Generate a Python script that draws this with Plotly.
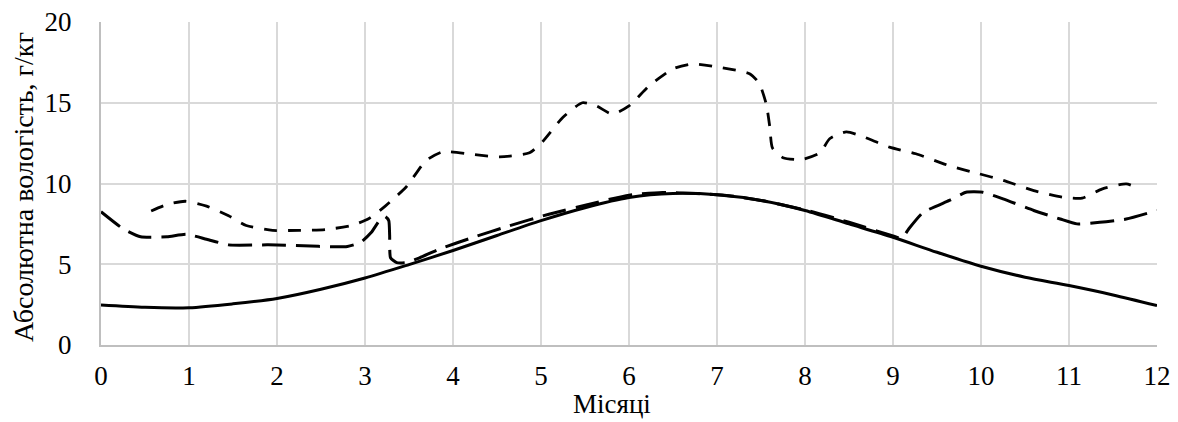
import plotly.graph_objects as go

# Solid curve
x_solid = [0, 0.5, 1, 1.5, 2, 2.5, 3, 3.5, 4, 4.5, 5, 5.5, 6, 6.5, 7, 7.5, 8, 8.5, 9, 9.5, 10, 10.5, 11, 11.5, 12]
y_solid = [2.47, 2.33, 2.31, 2.55, 2.88, 3.45, 4.15, 4.98, 5.85, 6.78, 7.7, 8.5, 9.13, 9.38, 9.3, 8.95, 8.33, 7.5, 6.67, 5.74, 4.88, 4.2, 3.68, 3.1, 2.44]

# Long-dashed curve
x_long = [0, 0.25, 0.45, 0.75, 0.97, 1.2, 1.45, 1.9, 2.3, 2.65, 2.8, 2.95, 3.07, 3.17, 3.23, 3.27, 3.28, 3.29, 3.36, 3.47,
          3.62, 3.84, 4.22, 4.64, 5.09, 5.55, 6.0, 6.38, 6.76, 7.14, 7.52, 8.05, 8.5, 9.0, 9.1, 9.18, 9.34, 9.64, 9.83,
          10.02, 10.25, 10.6, 10.9, 11.09, 11.35, 11.65, 12.0]
y_long = [8.25, 7.2, 6.7, 6.7, 6.85, 6.55, 6.2, 6.2, 6.14, 6.08, 6.1, 6.35, 6.96, 7.75, 7.95, 7.7, 6.8, 5.4, 5.1, 5.1,
          5.4, 5.93, 6.65, 7.38, 8.1, 8.72, 9.28, 9.44, 9.38, 9.24, 8.93, 8.3, 7.6, 6.75, 6.6, 7.2, 8.2, 8.95, 9.46,
          9.46, 9.05, 8.33, 7.8, 7.5, 7.6, 7.8, 8.33]

# Short-dashed curve
x_short = [0.57, 0.75, 0.96, 1.2, 1.45, 1.65, 1.95, 2.25, 2.55, 2.85, 3.05, 3.23, 3.47, 3.69, 3.88, 4.22, 4.53, 4.87,
           5.02, 5.25, 5.47, 5.63, 5.81, 6.0, 6.23, 6.5, 6.72, 7.02, 7.37, 7.48, 7.56, 7.6, 7.63, 7.75, 7.97, 8.17,
           8.28, 8.47, 8.66, 8.96, 9.26, 9.64, 9.98, 10.25, 10.6, 10.93, 11.15, 11.38, 11.65, 11.75]
y_short = [8.3, 8.7, 8.9, 8.6, 8.0, 7.4, 7.1, 7.1, 7.15, 7.4, 7.85, 8.6, 9.8, 11.4, 11.96, 11.8, 11.65, 11.9,
           12.6, 14.1, 15.0, 14.8, 14.3, 14.8, 16.05, 17.1, 17.4, 17.2, 16.8, 16.2, 14.9, 13.5, 12.2, 11.6, 11.5, 11.9,
           12.77, 13.2, 12.9, 12.25, 11.84, 11.1, 10.6, 10.2, 9.56, 9.15, 9.1, 9.67, 9.98, 9.8]

x_ticks = list(range(0, 13))
y_ticks = [0, 5, 10, 15, 20]

x_title = "Місяці"
y_title = "Абсолютна вологість, г/кг"

FONT = "Liberation Serif"
L, R, T, B = 101, 21, 22, 77
W, H = 1178, 422
PW, PH = W - L - R, H - T - B

fig = go.Figure()
fig.add_trace(go.Scatter(x=x_solid, y=y_solid, mode="lines",
                         line=dict(color="black", width=3, shape="spline", smoothing=0.8)))
fig.add_trace(go.Scatter(x=x_long, y=y_long, mode="lines",
                         line=dict(color="black", width=3, dash="24px,10px", shape="spline", smoothing=0.5)))
fig.add_trace(go.Scatter(x=x_short, y=y_short, mode="lines",
                         line=dict(color="black", width=2.8, dash="13px,11px", shape="spline", smoothing=0.6)))

fig.update_layout(
    width=W, height=H,
    margin=dict(l=L, r=R, t=T, b=B, autoexpand=False),
    paper_bgcolor="white", plot_bgcolor="white",
    showlegend=False,
    font=dict(family=FONT, size=27, color="black"),
)
fig.update_xaxes(
    range=[0, 12], tickvals=x_ticks, ticktext=[str(v) for v in x_ticks],
    showgrid=True, gridcolor="#d9d9d9", gridwidth=2,
    showline=True, linecolor="#bfbfbf", linewidth=2,
    zeroline=False, ticks="outside", ticklen=6, tickcolor="rgba(0,0,0,0)",
    automargin=False,
    tickfont=dict(family=FONT, size=27),
)
fig.update_yaxes(
    range=[0, 20], tickvals=y_ticks, ticktext=[str(v) for v in y_ticks],
    showgrid=True, gridcolor="#d9d9d9", gridwidth=2,
    showline=True, linecolor="#bfbfbf", linewidth=2,
    zeroline=False, ticks="outside", ticklen=22, tickcolor="rgba(0,0,0,0)",
    automargin=False,
    tickfont=dict(family=FONT, size=27),
)

# axis titles placed as annotations
fig.add_annotation(text=x_title, xref="paper", yref="paper",
                   x=(612 - L) / PW, y=(H - B - 404) / PH, xanchor="center", yanchor="middle",
                   showarrow=False, font=dict(family=FONT, size=27, color="black"))
fig.add_annotation(text=y_title, xref="paper", yref="paper",
                   x=(23 - L) / PW, y=(H - B - 187) / PH, xanchor="center", yanchor="middle",
                   textangle=-90, showarrow=False, font=dict(family=FONT, size=28, color="black"))

fig.write_html("out.html", config={"displayModeBar": False},
               post_script="document.body.style.margin='0px';document.body.style.overflow='hidden';")
